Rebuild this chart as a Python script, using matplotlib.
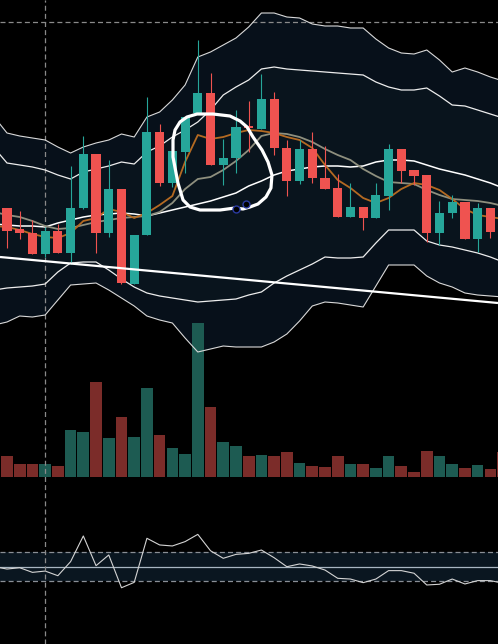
import numpy as np
import matplotlib
matplotlib.use("Agg")
import matplotlib.pyplot as plt

# candles (bar 0..39), price units
opens = [292, 271, 267, 246, 269, 247, 292, 346, 267, 311, 216, 265, 368, 317, 348, 387, 407, 335, 342, 374,
         371, 401, 352, 319, 351, 322, 312, 283, 293, 282, 304, 351, 330, 325, 267, 287, 298, 261, 292, 268]
highs = [292, 289, 280, 273, 276, 334, 364, 346, 340, 311, 265, 403, 376, 349, 383, 460, 427, 361, 390, 399,
         426, 408, 360, 360, 368, 354, 326, 317, 293, 317, 356, 351, 330, 325, 299, 305, 298, 297, 292, 272]
lows = [252, 261, 246, 243, 247, 236, 291, 247, 263, 216, 216, 265, 314, 313, 327, 387, 335, 315, 327, 348,
        371, 345, 304, 316, 317, 311, 283, 283, 270, 282, 290, 317, 315, 258, 255, 282, 261, 248, 262, 250]
closes = [269, 267, 246, 269, 247, 292, 346, 267, 311, 217, 265, 368, 317, 349, 383, 407, 335, 342, 373, 372,
          401, 352, 319, 351, 322, 311, 283, 293, 282, 305, 351, 329, 324, 267, 287, 298, 261, 292, 268, 255]
volume = [62, 38, 38, 38, 32, 140, 134, 284, 116, 179, 119, 266, 125, 86, 68, 461, 209, 104, 92, 62,
          65, 62, 74, 41, 32, 29, 62, 38, 38, 26, 62, 32, 14, 77, 62, 38, 26, 35, 23, 74]

# indicator series (bar -1..39)
bb_up_outer = [383, 367, 364, 362, 360, 353, 347, 353, 357, 360, 366, 363, 383, 388, 400, 415, 443, 448, 455, 462, 473,
               487, 487, 483, 482, 476, 474, 474, 472, 472, 461, 452, 447, 446, 450, 440, 428, 432, 428, 423, 419]
bb_up_inner = [352, 337, 335, 333, 330, 325, 321, 328, 331, 334, 338, 336, 348, 354, 363, 370, 378, 390, 405, 413, 420,
               431, 433, 431, 430, 429, 428, 427, 426, 425, 418, 413, 410, 410, 412, 404, 395, 394, 390, 386, 382]
bb_mid = [276, 275, 274, 274, 273, 277, 280, 283, 285, 286, 287, 286, 284, 287, 290, 293, 296, 299, 303, 307, 314,
          319, 325, 329, 331, 333, 334, 334, 333, 334, 338, 340, 340, 339, 335, 331, 328, 325, 321, 317, 312]
bb_lo_inner = [210, 212, 213, 214, 216, 228, 237, 238, 238, 230, 221, 213, 207, 204, 202, 200, 198, 199, 200, 201, 205,
               208, 217, 224, 230, 236, 243, 242, 242, 243, 257, 270, 270, 270, 259, 255, 253, 250, 247, 243, 238]
bb_lo_outer = [175, 178, 184, 183, 185, 200, 215, 216, 217, 210, 202, 194, 184, 180, 177, 162, 148, 151, 154, 153, 153,
               153, 158, 166, 179, 194, 198, 197, 195, 193, 214, 235, 235, 235, 224, 217, 213, 207, 205, 204, 203]
ma_fast = [274, 273, 270, 266, 263, 262, 267, 279, 282, 291, 288, 282, 287, 295, 304, 338, 365, 361, 363, 367, 370,
           369, 367, 363, 360, 352, 335, 320, 312, 302, 297, 302, 311, 317, 315, 310, 301, 291, 285, 283, 281]
ma_slow = [288, 285, 283, 279, 274, 271, 272, 275, 278, 280, 282, 283, 284, 288, 297, 311, 321, 323, 330, 339, 350,
           364, 367, 366, 363, 358, 351, 345, 340, 331, 324, 318, 317, 316, 310, 305, 301, 300, 299, 297, 294]
osc = [50.2, 48.6, 49.5, 46.3, 47.2, 44.0, 53.7, 71.4, 50.9, 58.3, 35.7, 39.4, 69.8, 65.2, 64.5, 67.5, 72.5,
       61.2, 56.0, 58.7, 59.4, 61.7, 56.4, 50.2, 52.1, 50.7, 47.9, 42.2, 41.7, 39.2, 41.7, 47.5, 47.5, 45.7,
       37.6, 38.1, 41.7, 38.3, 40.6, 40.6, 38.8]

# drawings
trend_x = [-0.55, 38.6]
trend_p = [243, 197]
loop_x = [17.92, 16.75, 15.17, 14.39, 13.84, 13.44, 13.05, 13.05, 13.21, 13.6, 14.15, 14.94, 16.19, 17.53,
          18.32, 18.87, 19.34, 20.05, 20.52, 20.83, 20.75, 20.36, 19.73, 19.1, 18.55, 17.92]
loop_p = [292, 290, 290, 293, 300, 317, 343, 360, 370, 378, 383, 386, 386, 384,
          379, 373, 363, 350, 338, 325, 312, 303, 296, 293, 291, 292]
dots_x = [18.0, 18.79]
dots_p = [291, 296]
cross_x = 3
cross_p = 478

UP = '#26a69a'
DOWN = '#ef5350'
VOL_UP = '#1d5b52'
VOL_DOWN = '#7b2c29'
NAVY = '#07101a'

bars = np.arange(len(opens))
ind_x = np.arange(-1, len(opens))
opens, highs, lows, closes = map(np.array, (opens, highs, lows, closes))
up = closes >= opens

fig = plt.figure(figsize=(4.98, 6.44), dpi=100, facecolor='black')
ax_fill = fig.add_axes([0, 0, 1, 1])
ax_vol = fig.add_axes([0, 0, 1, 1])
ax_osc = fig.add_axes([0, 0, 1, 1])
ax = fig.add_axes([0, 0, 1, 1])
for a in (ax_fill, ax_vol, ax_osc, ax):
    a.set_xlim(-0.55, 38.6)
    a.axis('off')
    a.patch.set_alpha(0)
ax_fill.patch.set_alpha(1)
ax_fill.patch.set_facecolor('black')
for a in (ax_fill, ax):
    a.set_ylim(-144, 500)
ax_vol.set_ylim(-502, 1430)
ax_osc.set_ylim(-3.1, 441)

# band background
ax_fill.fill_between(ind_x, bb_up_outer, bb_lo_outer, color=NAVY, lw=0)
ax_fill.fill_between(ind_x, bb_up_inner, bb_lo_inner, color='#09141d', lw=0)

# volume
ax_vol.bar(bars, volume, width=0.92, color=np.where(up, VOL_UP, VOL_DOWN), lw=0)

# oscillator pane
ax_osc.axhspan(40, 60, color='#0a1620', lw=0)
ax_osc.axhline(60, color='#8a8f96', lw=0.9, dashes=(4, 2.5))
ax_osc.axhline(40, color='#8a8f96', lw=0.9, dashes=(4, 2.5))
ax_osc.axhline(50, color='#a9b6c2', lw=0.9)
ax_osc.plot(ind_x, osc, color='#d4d4d4', lw=0.8)

# crosshair
ax.axvline(cross_x, color='#8a8a8a', lw=0.9, dashes=(4, 2.5), zorder=1)
ax.axhline(cross_p, color='#8a8a8a', lw=0.9, dashes=(4, 2.5), zorder=1)

# bands and averages
ax.plot(ind_x, bb_up_outer, color='#d9d9d9', lw=0.8, zorder=2)
ax.plot(ind_x, bb_lo_outer, color='#d9d9d9', lw=0.8, zorder=2)
ax.plot(ind_x, bb_up_inner, color='#ededed', lw=0.9, zorder=2)
ax.plot(ind_x, bb_lo_inner, color='#ededed', lw=0.9, zorder=2)
ax.plot(ind_x, bb_mid, color='white', lw=1.1, zorder=2)
ax.plot(ind_x, ma_slow, color='#8e8f7e', lw=1.3, zorder=3)
ax.plot(ind_x, ma_fast, color='#b46a22', lw=1.3, zorder=3)

# candles
colors = np.where(up, UP, DOWN)
ax.vlines(bars, lows, highs, colors=colors, lw=0.8, zorder=4)
ax.bar(bars, np.maximum(np.abs(closes - opens), 1.5), bottom=np.minimum(opens, closes),
       width=0.72, color=colors, lw=0, zorder=5)

# hand drawings
ax.plot(trend_x, trend_p, color='white', lw=1.6, zorder=6, solid_capstyle='butt')
ax.plot(loop_x, loop_p, color='white', lw=2.3, zorder=6, solid_joinstyle='round', solid_capstyle='round')
ax.plot(dots_x, dots_p, 'o', ms=5, mfc='black', mec='#2a3aa0', mew=1, zorder=7)

fig.savefig('out.png', dpi=100, facecolor='black')
